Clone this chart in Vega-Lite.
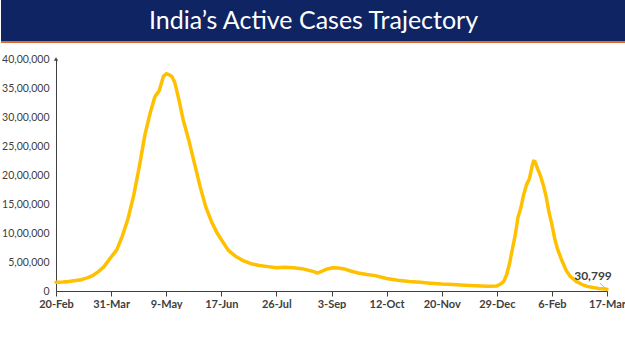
{
  "$schema": "https://vega.github.io/schema/vega-lite/v6.json",
  "padding": 0,
  "spacing": 11,
  "background": "white",
  "config": {"view": {"stroke": null}, "axisY": {"labelOverlap": false}},
  "vconcat": [
    {
      "width": 570,
      "height": 42,
      "data": {"values": [{"title": "India’s Active Cases Trajectory"}]},
      "encoding": {
        "x": {"datum": 0, "type": "quantitative", "scale": {"domain": [0, 1], "range": [-55, 570]}, "axis": null},
        "x2": {"datum": 1},
        "y": {"datum": 0, "type": "quantitative", "scale": {"domain": [0, 1]}, "axis": null}
      },
      "layer": [
        {
          "mark": {"type": "rect", "color": "#0E2463", "clip": false},
          "encoding": {"y2": {"datum": 1}}
        },
        {
          "mark": {"type": "rule", "color": "#E2692E", "strokeWidth": 2, "clip": false},
          "encoding": {}
        },
        {
          "mark": {"type": "text", "color": "white", "font": "Lato", "fontSize": 25, "baseline": "middle", "align": "center", "clip": false},
          "encoding": {
            "x": {"datum": 0.5, "type": "quantitative"},
            "x2": null,
            "y": {"datum": 0.5, "type": "quantitative"},
            "text": {"field": "title"}
          }
        }
      ]
    },
    {
      "width": 551,
      "height": 232,
      "encoding": {
        "x": {
          "field": "date", "type": "temporal",
          "scale": {"type": "utc", "domain": [{"year": 2021, "month": 2, "date": 20, "utc": true}, {"year": 2022, "month": 3, "date": 17, "utc": true}]},
          "axis": {
            "title": null, "grid": false, "format": "%-d-%b",
            "values": [
              {"year": 2021, "month": 2, "date": 20, "utc": true},
              {"year": 2021, "month": 3, "date": 31, "utc": true},
              {"year": 2021, "month": 5, "date": 9, "utc": true},
              {"year": 2021, "month": 6, "date": 17, "utc": true},
              {"year": 2021, "month": 7, "date": 26, "utc": true},
              {"year": 2021, "month": 9, "date": 3, "utc": true},
              {"year": 2021, "month": 10, "date": 12, "utc": true},
              {"year": 2021, "month": 11, "date": 20, "utc": true},
              {"year": 2021, "month": 12, "date": 29, "utc": true},
              {"year": 2022, "month": 2, "date": 6, "utc": true},
              {"year": 2022, "month": 3, "date": 17, "utc": true}
            ],
            "labelFont": "Lato", "labelFontSize": 11, "labelFontWeight": "bold", "labelColor": "#404040",
            "labelFlush": false, "labelOverlap": false, "labelPadding": 2,
            "domainColor": "#404040", "domainWidth": 1, "ticks": true, "tickColor": "#404040", "tickSize": 5, "tickWidth": 1
          }
        },
        "y": {
          "field": "active", "type": "quantitative",
          "scale": {"domain": [0, 4000000], "nice": false},
          "axis": {
            "title": null, "grid": false, "ticks": false, "tickCount": 9,
            "values": [0, 500000, 1000000, 1500000, 2000000, 2500000, 3000000, 3500000, 4000000],
            "labelExpr": "datum.value == 0 ? '0' : format(datum.value / 100000, 'd') + ',00,000'",
            "labelFont": "Lato", "labelFontSize": 10.5, "labelColor": "#404040", "labelPadding": 7,
            "labelOverlap": false, "labelFlush": false,
            "domainColor": "#404040", "domainWidth": 1
          }
        }
      },
      "layer": [
        {
          "data": {"values": [
            {"date": "2021-02-20", "active": 150000},
            {"date": "2021-02-25", "active": 155000},
            {"date": "2021-03-01", "active": 165000},
            {"date": "2021-03-06", "active": 180000},
            {"date": "2021-03-10", "active": 195000},
            {"date": "2021-03-14", "active": 225000},
            {"date": "2021-03-18", "active": 265000},
            {"date": "2021-03-22", "active": 335000},
            {"date": "2021-03-26", "active": 420000},
            {"date": "2021-03-31", "active": 585000},
            {"date": "2021-04-04", "active": 710000},
            {"date": "2021-04-08", "active": 950000},
            {"date": "2021-04-12", "active": 1250000},
            {"date": "2021-04-16", "active": 1650000},
            {"date": "2021-04-20", "active": 2150000},
            {"date": "2021-04-24", "active": 2700000},
            {"date": "2021-04-28", "active": 3100000},
            {"date": "2021-05-01", "active": 3350000},
            {"date": "2021-05-04", "active": 3450000},
            {"date": "2021-05-07", "active": 3700000},
            {"date": "2021-05-09", "active": 3745000},
            {"date": "2021-05-11", "active": 3730000},
            {"date": "2021-05-13", "active": 3700000},
            {"date": "2021-05-15", "active": 3600000},
            {"date": "2021-05-18", "active": 3300000},
            {"date": "2021-05-21", "active": 2950000},
            {"date": "2021-05-25", "active": 2600000},
            {"date": "2021-05-29", "active": 2200000},
            {"date": "2021-06-02", "active": 1800000},
            {"date": "2021-06-06", "active": 1450000},
            {"date": "2021-06-10", "active": 1200000},
            {"date": "2021-06-14", "active": 1000000},
            {"date": "2021-06-18", "active": 850000},
            {"date": "2021-06-22", "active": 700000},
            {"date": "2021-06-27", "active": 600000},
            {"date": "2021-07-02", "active": 530000},
            {"date": "2021-07-08", "active": 470000},
            {"date": "2021-07-14", "active": 440000},
            {"date": "2021-07-20", "active": 420000},
            {"date": "2021-07-26", "active": 400000},
            {"date": "2021-08-01", "active": 410000},
            {"date": "2021-08-07", "active": 400000},
            {"date": "2021-08-13", "active": 385000},
            {"date": "2021-08-18", "active": 355000},
            {"date": "2021-08-22", "active": 330000},
            {"date": "2021-08-24", "active": 310000},
            {"date": "2021-08-27", "active": 340000},
            {"date": "2021-08-31", "active": 380000},
            {"date": "2021-09-04", "active": 400000},
            {"date": "2021-09-08", "active": 395000},
            {"date": "2021-09-12", "active": 380000},
            {"date": "2021-09-17", "active": 340000},
            {"date": "2021-09-22", "active": 310000},
            {"date": "2021-09-28", "active": 285000},
            {"date": "2021-10-04", "active": 265000},
            {"date": "2021-10-12", "active": 215000},
            {"date": "2021-10-20", "active": 185000},
            {"date": "2021-10-28", "active": 165000},
            {"date": "2021-11-05", "active": 150000},
            {"date": "2021-11-12", "active": 135000},
            {"date": "2021-11-20", "active": 120000},
            {"date": "2021-11-28", "active": 110000},
            {"date": "2021-12-06", "active": 100000},
            {"date": "2021-12-14", "active": 90000},
            {"date": "2021-12-22", "active": 82000},
            {"date": "2021-12-29", "active": 85000},
            {"date": "2022-01-01", "active": 125000},
            {"date": "2022-01-03", "active": 170000},
            {"date": "2022-01-05", "active": 285000},
            {"date": "2022-01-07", "active": 470000},
            {"date": "2022-01-09", "active": 720000},
            {"date": "2022-01-11", "active": 960000},
            {"date": "2022-01-13", "active": 1270000},
            {"date": "2022-01-15", "active": 1430000},
            {"date": "2022-01-17", "active": 1660000},
            {"date": "2022-01-19", "active": 1830000},
            {"date": "2022-01-21", "active": 1930000},
            {"date": "2022-01-23", "active": 2150000},
            {"date": "2022-01-24", "active": 2240000},
            {"date": "2022-01-25", "active": 2230000},
            {"date": "2022-01-27", "active": 2100000},
            {"date": "2022-01-29", "active": 1980000},
            {"date": "2022-01-31", "active": 1820000},
            {"date": "2022-02-02", "active": 1620000},
            {"date": "2022-02-04", "active": 1350000},
            {"date": "2022-02-06", "active": 1150000},
            {"date": "2022-02-08", "active": 900000},
            {"date": "2022-02-10", "active": 720000},
            {"date": "2022-02-13", "active": 530000},
            {"date": "2022-02-16", "active": 360000},
            {"date": "2022-02-19", "active": 250000},
            {"date": "2022-02-23", "active": 170000},
            {"date": "2022-02-27", "active": 115000},
            {"date": "2022-03-03", "active": 80000},
            {"date": "2022-03-07", "active": 60000},
            {"date": "2022-03-11", "active": 45000},
            {"date": "2022-03-14", "active": 37000},
            {"date": "2022-03-17", "active": 30799}
          ]},
          "mark": {"type": "line", "color": "#FFC000", "strokeWidth": 3.5, "strokeJoin": "round", "strokeCap": "round", "clip": false}
        },
        {
          "data": {"values": [{"date": "2021-02-20", "active": 4000000}]},
          "mark": {"type": "point", "shape": "triangle-up", "filled": true, "color": "#404040", "size": 18, "opacity": 1, "clip": false}
        },
        {
          "data": {"values": [{"date": "2022-03-12", "active": 135000, "date2": "2022-03-16", "active2": 45000}]},
          "mark": {"type": "rule", "color": "#A6A6A6", "strokeWidth": 0.8, "clip": false},
          "encoding": {
            "x2": {"field": "date2"},
            "y2": {"field": "active2"}
          }
        },
        {
          "data": {"values": [{"date": "2022-03-17", "active": 30799, "label": "30,799"}]},
          "mark": {"type": "text", "font": "Lato", "fontSize": 12, "fontWeight": "bold", "color": "#404040", "dx": -14, "dy": -13, "align": "center", "baseline": "middle", "clip": false},
          "encoding": {
            "text": {"field": "label"}
          }
        }
      ]
    }
  ]
}
